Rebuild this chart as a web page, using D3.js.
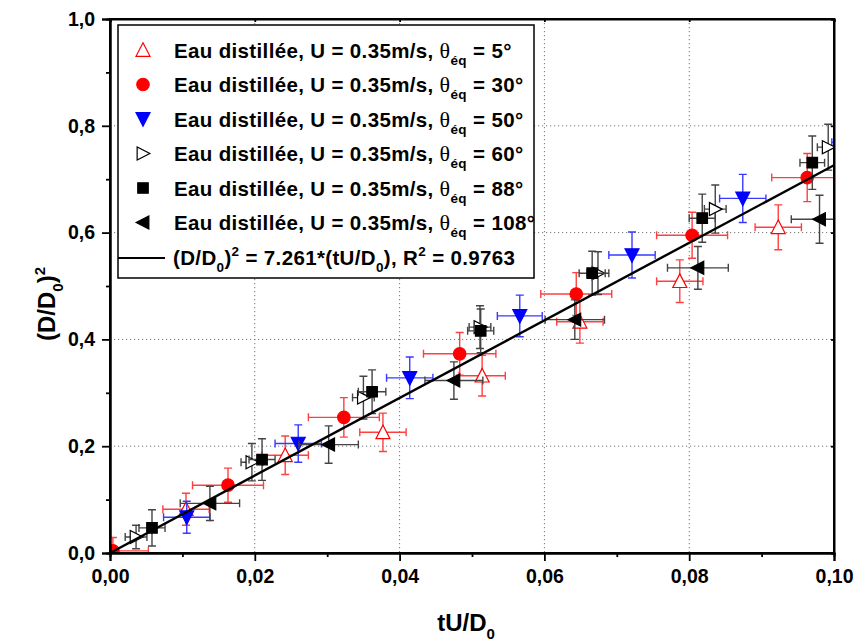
<!DOCTYPE html>
<html><head><meta charset="utf-8">
<script src="https://cdn.jsdelivr.net/npm/d3@7"></script>
<style>body{margin:0;background:#fff}</style>
</head><body><svg id="c" width="855" height="643"></svg>
<script>
// ---- data ----
const angles = ["5", "30", "50", "60", "88", "108"];
const x5  = [0.0105, 0.0242, 0.0377, 0.0514, 0.0649, 0.0787, 0.0923];
const y5  = [0.082, 0.183, 0.226, 0.332, 0.433, 0.509, 0.610];
const ex5 = [0.0032, 0.0032, 0.0032, 0.0032, 0.0032, 0.0032, 0.0032];
const ey5 = [0.030, 0.036, 0.036, 0.038, 0.040, 0.040, 0.042];

const x30  = [0.0004, 0.0163, 0.0323, 0.0483, 0.0644, 0.0804, 0.0963];
const y30  = [0.004, 0.127, 0.254, 0.373, 0.485, 0.595, 0.703];
const ex30 = [0.0049, 0.0049, 0.0049, 0.0050, 0.0049, 0.0049, 0.0049];
const ey30 = [0.025, 0.032, 0.037, 0.040, 0.040, 0.043, 0.045];

const x50  = [0.0106, 0.0260, 0.0414, 0.0566, 0.0721, 0.0874, 0.1029];
const y50  = [0.067, 0.205, 0.328, 0.444, 0.558, 0.664, 0.769];
const ex50 = [0.0032, 0.0032, 0.0032, 0.0031, 0.0032, 0.0032, 0.0032];
const ey50 = [0.030, 0.035, 0.039, 0.039, 0.043, 0.045, 0.047];

const x60  = [0.0036, 0.0196, 0.0350, 0.0511, 0.0674, 0.0836, 0.0992];
const y60  = [0.030, 0.170, 0.291, 0.423, 0.524, 0.644, 0.760];
const ex60 = [0.0015, 0.0015, 0.0015, 0.0015, 0.0015, 0.0015, 0.0015];
const ey60 = [0.022, 0.035, 0.040, 0.040, 0.040, 0.045, 0.043];

const x88  = [0.0058, 0.0210, 0.0362, 0.0512, 0.0666, 0.0818, 0.0970];
const y88  = [0.047, 0.175, 0.302, 0.416, 0.524, 0.627, 0.731];
const ex88 = [0.0018, 0.0018, 0.0019, 0.0018, 0.0018, 0.0018, 0.0017];
const ey88 = [0.034, 0.039, 0.041, 0.041, 0.041, 0.045, 0.050];

const x108  = [0.0138, 0.0302, 0.0475, 0.0642, 0.0812, 0.0980];
const y108  = [0.093, 0.203, 0.323, 0.437, 0.534, 0.625];
const ex108 = [0.0041, 0.0041, 0.0040, 0.0041, 0.0042, 0.0039];
const ey108 = [0.032, 0.035, 0.035, 0.037, 0.040, 0.045];

const fitSlope = 7.261;
const fitX = [0, 0.1];
const xTicks = [0, 0.02, 0.04, 0.06, 0.08, 0.10];
const xMinor = [0.01, 0.03, 0.05, 0.07, 0.09];
const yTicks = [0, 0.2, 0.4, 0.6, 0.8, 1.0];
const yMinor = [0.1, 0.3, 0.5, 0.7, 0.9];

// ---- styles ----
const styles = [
  {shape: "triUp",   fill: "#fff", stroke: "#ff0000", err: "#ff4040"},
  {shape: "circle",  fill: "#ff0000", stroke: "#ff0000", err: "#ff4040"},
  {shape: "triDown", fill: "#0000ff", stroke: "#0000ff", err: "#3a3aff"},
  {shape: "triRight",fill: "#fff", stroke: "#000", err: "#444"},
  {shape: "square",  fill: "#000", stroke: "#000", err: "#444"},
  {shape: "triLeft", fill: "#000", stroke: "#000", err: "#444"}
];
const series = [
  [x5, y5, ex5, ey5], [x30, y30, ex30, ey30], [x50, y50, ex50, ey50],
  [x60, y60, ex60, ey60], [x88, y88, ex88, ey88], [x108, y108, ex108, ey108]
];

const svg = d3.select("#c");
const L = 110, R = 834, T = 19, B = 553;
const x = d3.scaleLinear([0, 0.1], [L, R]);
const y = d3.scaleLinear([0, 1], [B, T]);
const FONT = "'Liberation Sans', Arial, sans-serif";

function shapePath(shape, s) {
  switch (shape) {
    case "circle": return d3.symbol(d3.symbolCircle, s * s * 0.785)();
    case "square": { const h = s / 2; return `M${-h},${-h}H${h}V${h}H${-h}Z`; }
    case "triUp":   { const w = s / 2, h = s * 0.45; return `M0,${-h - 1}L${w},${h}L${-w},${h}Z`; }
    case "triDown": { const w = s / 2, h = s * 0.45; return `M0,${h + 1}L${w},${-h}L${-w},${-h}Z`; }
    case "triRight":{ const w = s / 2, h = s * 0.45; return `M${h + 1},0L${-h},${w}L${-h},${-w}Z`; }
    case "triLeft": { const w = s / 2, h = s * 0.45; return `M${-h - 1},0L${h},${w}L${h},${-w}Z`; }
  }
}
const sizes = {circle: 12.5, square: 10.5, triUp: 14, triDown: 14, triRight: 13, triLeft: 13};

// clip
svg.append("defs").append("clipPath").attr("id", "clip")
  .append("rect").attr("x", L).attr("y", T).attr("width", R - L).attr("height", B - T);

// grid
const grid = svg.append("g").attr("stroke", "#777").attr("stroke-width", 1).attr("stroke-dasharray", "1.2,2.8");
xTicks.slice(1, -1).forEach(v => grid.append("line").attr("x1", x(v)).attr("x2", x(v)).attr("y1", T).attr("y2", B));
yTicks.slice(1, -1).forEach(v => grid.append("line").attr("y1", y(v)).attr("y2", y(v)).attr("x1", L).attr("x2", R));

// data
const plot = svg.append("g").attr("clip-path", "url(#clip)");
const cap = 4;
series.forEach((s, i) => {
  const [xs, ys, exs, eys] = s; const st = styles[i];
  const g = plot.append("g");
  const eg = g.append("g").attr("stroke", st.err).attr("stroke-width", 1.4).attr("fill", "none");
  xs.forEach((xv, j) => {
    const cx = x(xv), cy = y(ys[j]);
    const x1 = x(xv - exs[j]), x2 = x(xv + exs[j]);
    const y1 = y(ys[j] + eys[j]), y2 = y(ys[j] - eys[j]);
    eg.append("path").attr("d",
      `M${x1},${cy}H${x2}M${x1},${cy - cap}V${cy + cap}M${x2},${cy - cap}V${cy + cap}` +
      `M${cx},${y1}V${y2}M${cx - cap},${y1}H${cx + cap}M${cx - cap},${y2}H${cx + cap}`);
  });
  g.selectAll("path.m").data(xs.map((xv, j) => [xv, ys[j]])).join("path").attr("class", "m")
    .attr("transform", d => `translate(${x(d[0])},${y(d[1])})`)
    .attr("d", shapePath(st.shape, sizes[st.shape]))
    .attr("fill", st.fill).attr("stroke", st.stroke).attr("stroke-width", 1.2);
});

// fit line
plot.append("path").attr("d", d3.line()(fitX.map(v => [x(v), y(fitSlope * v)])))
  .attr("stroke", "#000").attr("stroke-width", 2.4).attr("fill", "none");

// frame
svg.append("rect").attr("x", L).attr("y", T).attr("width", R - L).attr("height", B - T)
  .attr("fill", "none").attr("stroke", "#000").attr("stroke-width", 2);

// axes
const fmtX = d => d.toFixed(2).replace(".", ",");
const fmtY = d => d.toFixed(1).replace(".", ",");
const ax = svg.append("g").attr("transform", `translate(0,${B})`)
  .call(d3.axisBottom(x).tickValues(xTicks).tickFormat(fmtX).tickSize(8).tickPadding(8));
const axm = svg.append("g").attr("transform", `translate(0,${B})`)
  .call(d3.axisBottom(x).tickValues(xMinor).tickFormat("").tickSize(4));
const ay = svg.append("g").attr("transform", `translate(${L},0)`)
  .call(d3.axisLeft(y).tickValues(yTicks).tickFormat(fmtY).tickSize(8).tickPadding(7));
const aym = svg.append("g").attr("transform", `translate(${L},0)`)
  .call(d3.axisLeft(y).tickValues(yMinor).tickFormat("").tickSize(4));
const at = svg.append("g").attr("transform", `translate(0,${T})`)
  .call(d3.axisBottom(x).tickValues(xTicks).tickFormat("").tickSize(3));
const ar = svg.append("g").attr("transform", `translate(${R},0)`)
  .call(d3.axisLeft(y).tickValues(yTicks).tickFormat("").tickSize(3));
[ax, axm, ay, aym, at, ar].forEach(a => {
  a.select(".domain").attr("stroke-width", 2);
  a.selectAll(".tick line").attr("stroke-width", 1.8);
  a.selectAll("text").attr("font-family", FONT).attr("font-weight", "bold").attr("font-size", 19.5).attr("fill", "#000");
});

// axis titles
const xt = svg.append("text").attr("x", 466).attr("y", 631).attr("text-anchor", "middle")
  .attr("font-family", FONT).attr("font-weight", "bold").attr("font-size", 24);
xt.append("tspan").text("tU/D");
xt.append("tspan").attr("font-size", 15).attr("dy", 8).text("0");

const yt = svg.append("text").attr("transform", "translate(55,304) rotate(-90)").attr("text-anchor", "middle")
  .attr("font-family", FONT).attr("font-weight", "bold").attr("font-size", 24);
yt.append("tspan").text("(D/D");
yt.append("tspan").attr("font-size", 15).attr("dy", 8).text("0");
yt.append("tspan").attr("dy", -8).text(")");
yt.append("tspan").attr("font-size", 15).attr("dy", -10).text("2");

// legend
const lg = svg.append("g");
lg.append("rect").attr("x", 118).attr("y", 25).attr("width", 416).attr("height", 253)
  .attr("fill", "#fff").attr("stroke", "#000").attr("stroke-width", 1.5);
const rowY = [50, 84.5, 119, 153.5, 188, 222.5];
angles.forEach((a, i) => {
  const st = styles[i];
  lg.append("path").attr("transform", `translate(143,${rowY[i]})`)
    .attr("d", shapePath(st.shape, sizes[st.shape]))
    .attr("fill", st.fill).attr("stroke", st.stroke).attr("stroke-width", 1.2);
  const t = lg.append("text").attr("x", 174).attr("y", rowY[i] + 7.5)
    .attr("font-family", FONT).attr("font-weight", "bold").attr("font-size", 20.5)
    .attr("letter-spacing", 0.35);
  t.append("tspan").text("Eau distillée, U = 0.35m/s, ");
  t.append("tspan").attr("font-family", "'Liberation Serif', serif").attr("font-weight", "normal").attr("font-size", 22).text("θ");
  t.append("tspan").attr("font-size", 13.5).attr("dy", 7).text("éq");
  t.append("tspan").attr("dy", -7).text(" = " + a + "°");
});
lg.append("line").attr("x1", 118).attr("x2", 165).attr("y1", 258).attr("y2", 258)
  .attr("stroke", "#000").attr("stroke-width", 2);
const ft = lg.append("text").attr("x", 173).attr("y", 265)
  .attr("font-family", FONT).attr("font-weight", "bold").attr("font-size", 20.5)
  .attr("letter-spacing", 0.35);
ft.append("tspan").text("(D/D");
ft.append("tspan").attr("font-size", 13.5).attr("dy", 7).text("0");
ft.append("tspan").attr("dy", -7).text(")");
ft.append("tspan").attr("font-size", 13.5).attr("dy", -9).text("2");
ft.append("tspan").attr("dy", 9).text(" = " + fitSlope + "*(tU/D");
ft.append("tspan").attr("font-size", 13.5).attr("dy", 7).text("0");
ft.append("tspan").attr("dy", -7).text("), R");
ft.append("tspan").attr("font-size", 13.5).attr("dy", -9).text("2");
ft.append("tspan").attr("dy", 9).text(" = 0.9763");
</script></body></html>
